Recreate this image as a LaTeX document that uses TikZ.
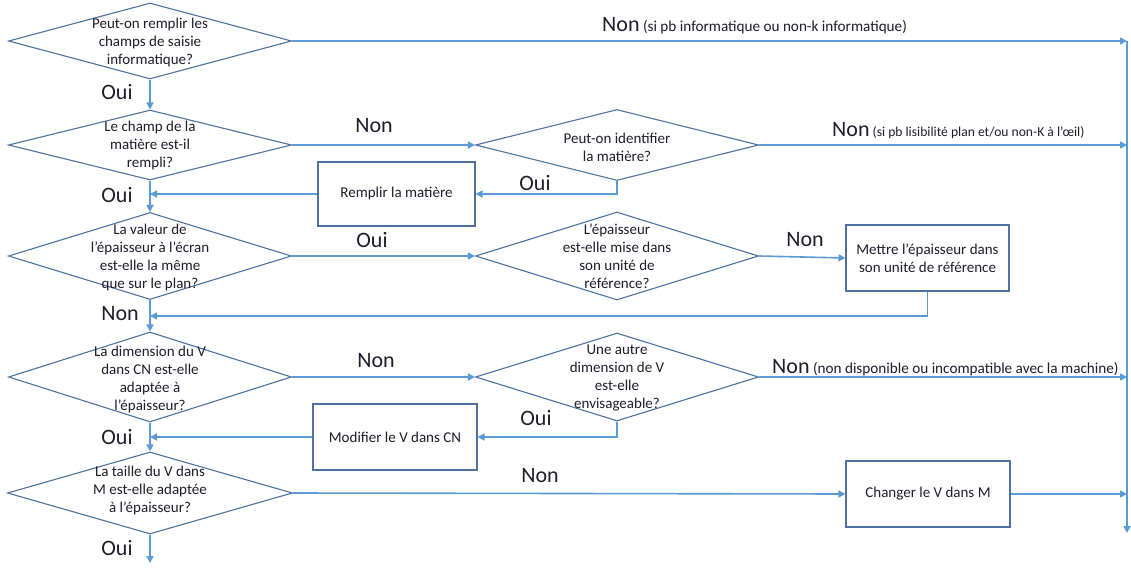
\documentclass[tikz,border=0pt]{standalone}
\usepackage{fontspec}
\setmainfont{Carlito}
\usetikzlibrary{shapes.geometric,arrows.meta,calc}
\definecolor{lineblue}{HTML}{5B9BD5}
\definecolor{shapeblue}{HTML}{4F71A0}
\definecolor{ink}{HTML}{1E1E2C}
\newcommand\notesize[1]{\fontsize{#1}{16}\selectfont}
\begin{document}
\begin{tikzpicture}[x=1pt,y=-1pt,
  decision/.style={diamond, draw=shapeblue, line width=1.1pt, inner sep=0pt},
  action/.style={rectangle, draw=shapeblue, line width=1.1pt, inner sep=0pt,
    align=center, font=\fontsize{15}{18}\selectfont, text=ink},
  qtext/.style={align=center, font=\fontsize{15}{18}\selectfont, text=ink, inner sep=0pt},
  conn/.style={draw=lineblue, line width=1.6pt, -{Triangle[length=7pt,width=7pt]}},
  answer/.style={font=\fontsize{22}{24}\selectfont, text=ink, inner sep=0pt}
]
\fill[white] (0,0) rectangle (1131,569);
\useasboundingbox (0,0) rectangle (1131,569);

% decisions
\node[decision, minimum width=283pt, minimum height=76pt,
  label={[qtext,yshift=-2pt]center:{Peut-on remplir les\\champs de saisie\\informatique?}}] (d1) at (150,41) {};
\node[decision, minimum width=283pt, minimum height=70pt,
  label={[qtext,yshift=-1pt]center:{Le champ de la\\matière est-il\\rempli?}}] (d2) at (150,145) {};
\node[decision, minimum width=283pt, minimum height=71pt,
  label={[qtext,yshift=-2pt]center:{Peut-on identifier\\la matière?}}] (d3) at (617,145) {};
\node[decision, minimum width=283pt, minimum height=87pt,
  label={[qtext,yshift=-2pt]center:{La valeur de\\l’épaisseur à l’écran\\est-elle la même\\que sur le plan?}}] (d4) at (150,256) {};
\node[decision, minimum width=283pt, minimum height=88pt,
  label={[qtext]center:{L’épaisseur\\est-elle mise dans\\son unité de\\référence?}}] (d5) at (617,256) {};
\node[decision, minimum width=283pt, minimum height=90pt,
  label={[qtext,yshift=-2pt]center:{La dimension du V\\dans CN est-elle\\adaptée à\\l’épaisseur?}}] (d6) at (150,377) {};
\node[decision, minimum width=283pt, minimum height=88pt,
  label={[qtext,yshift=-1pt]center:{Une autre\\dimension de V\\est-elle\\envisageable?}}] (d7) at (617,377) {};
\node[decision, minimum width=285pt, minimum height=82pt,
  label={[qtext,yshift=3pt]center:{La taille du V dans\\M est-elle adaptée\\à l’épaisseur?}}] (d8) at (150,493) {};

% actions
\node[action, minimum width=157pt, minimum height=64pt] (b1) at (396.5,194) {Remplir la matière};
\node[action, minimum width=163pt, minimum height=66pt] (b2) at (927.5,258) {Mettre l’épaisseur dans\\son unité de référence};
\node[action, minimum width=164pt, minimum height=66pt] (b3) at (395,437) {Modifier le V dans CN};
\node[action, minimum width=164pt, minimum height=66pt] (b4) at (928,494) {Changer le V dans M};

% right-hand exit line and free ends
\coordinate (e1) at (1127,41);
\coordinate (e9) at (1127,533);
\coordinate (j2) at (150,316);
\coordinate (fin) at (150,563);

% connectors
\draw[conn] (d1.east) -- (e1);
\draw[conn] (e1) -- (e9);
\draw[conn] (d1.south) -- (d2.north);
\draw[conn] (d2.east) -- (d3.west);
\draw[conn] (d3.east) -- (d3.east -| e1);
\draw[conn] (d3.south) |- (b1.east);
\draw[conn] (b1.west) -- (b1.west -| d2.south);
\draw[conn] (d2.south) -- (d4.north);
\draw[conn] (d4.east) -- (d5.west);
\draw[conn] (d5.east) -- (b2.west);
\draw[conn] (b2.south) |- (j2);
\draw[conn] (d4.south) -- (d6.north);
\draw[conn] (d6.east) -- (d7.west);
\draw[conn] (d7.east) -- (d7.east -| e1);
\draw[conn] (d7.south) |- (b3.east);
\draw[conn] (b3.west) -- (b3.west -| d6.south);
\draw[conn] (d6.south) -- (d8.north);
\draw[conn] (d8.east) -- (b4.west);
\draw[conn] (b4.east) -- (b4.east -| e1);
\draw[conn] (d8.south) -- (fin);

% answers
\node[answer] (a1) at (117,92.5) {Oui};
\node[answer] (a2) at (117,195) {Oui};
\node[answer] (a3) at (120,314) {Non};
\node[answer] (a4) at (117,437) {Oui};
\node[answer] (a5) at (117,548) {Oui};
\node[answer] (a6) at (374,126) {Non};
\node[answer] (a7) at (372,240) {Oui};
\node[answer] (a8) at (376,361) {Non};
\node[answer] (a9) at (540,476) {Non};
\node[answer] (a10) at (535,183) {Oui};
\node[answer] (a11) at (805,240) {Non};
\node[answer] (a12) at (536,418) {Oui};
\node[answer, anchor=base west] (n1) at (602,32) {Non{\notesize{15.2}\ (si pb informatique ou non-k informatique)}};
\node[answer, anchor=base west] (n2) at (832,137) {Non{\notesize{13.6}\ (si pb lisibilité plan et/ou non-K à l’œil)}};
\node[answer, anchor=base west] (n3) at (772,373) {Non{\notesize{15.2}\ (non disponible ou incompatible avec la machine)}};
\end{tikzpicture}
\end{document}
